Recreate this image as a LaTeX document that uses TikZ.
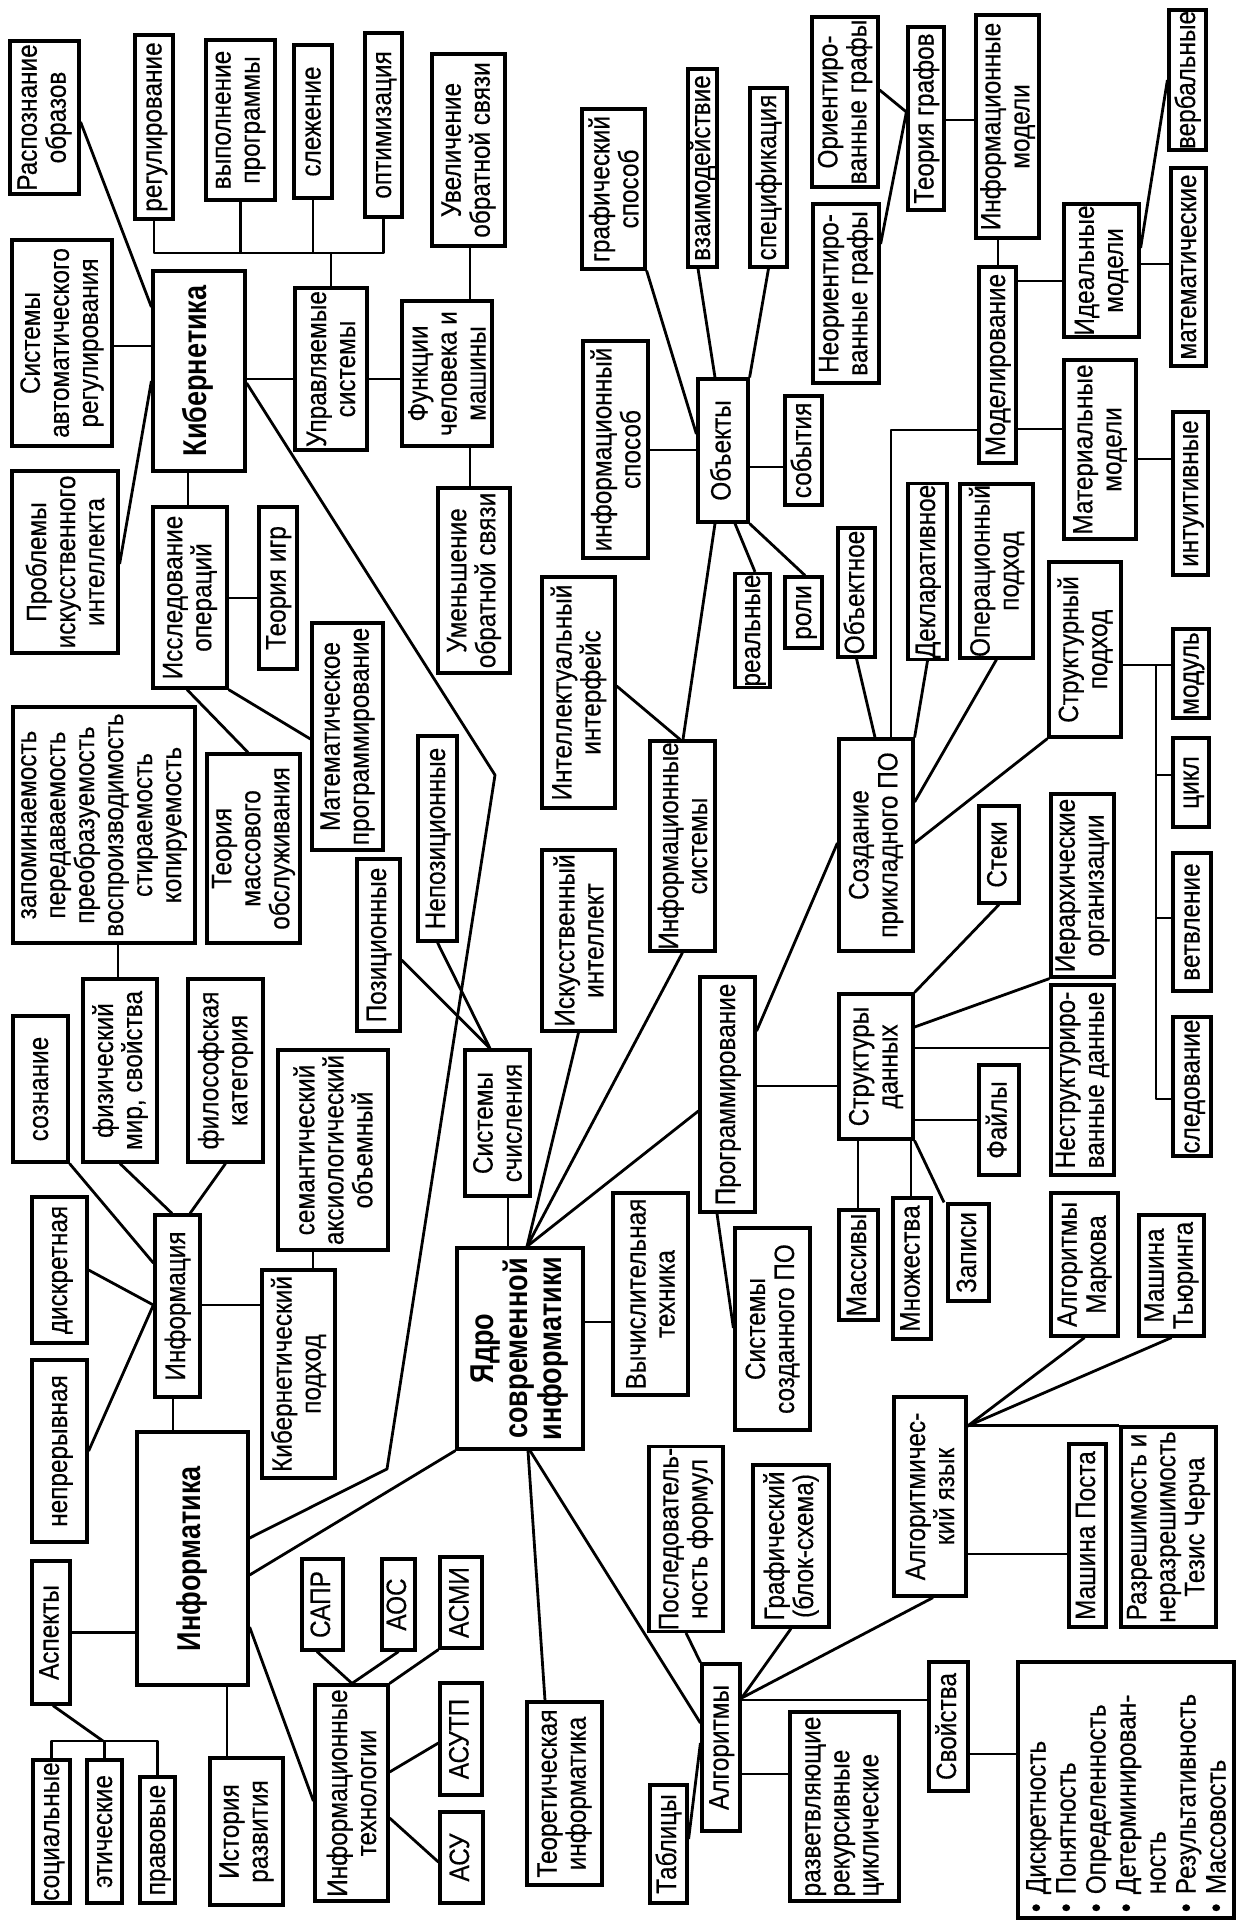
\documentclass[tikz,border=0pt]{standalone}
\usepackage{fontspec}
\setmainfont{Liberation Sans}[FakeStretch=0.87,FakeBold=0.4]
\newfontfamily\ttlfont{Liberation Sans}[FakeStretch=0.82]
\usetikzlibrary{calc}
\tikzset{
  bx/.style={draw, line width=1.6pt, rotate=90, inner sep=0.5pt, align=center,
    font=\fontsize{14}{14.5}\selectfont},
  one/.style={text height=10pt, text depth=2.5pt},
  ttl/.style={font=\ttlfont\bfseries\fontsize{16.5}{17}\selectfont},
  ln/.style={line width=1.4pt, line join=round}
}
\newcommand\mybox[7][]{\node[bx,#1,minimum width={(#6-#4)*0.5pt},minimum height={(#5-#3)*0.5pt}] (#2) at ({(#3+#5)/2},{(#4+#6)/2}) {#7};}
\begin{document}
\begin{tikzpicture}[x=0.5pt,y=-0.5pt]
\fill[white] (0,0) rectangle (1236,1921);
\useasboundingbox (0,0) rectangle (1236,1921);
% ---- top-left cluster
\mybox{rasp}{10}{41}{79}{194}{Распознание\\образов}
\mybox[one]{reg}{135}{35}{173}{219}{регулирование}
\mybox{vyp}{206}{40}{275}{200}{выполнение\\программы}
\mybox[one]{slezh}{294}{45}{332}{198}{слежение}
\mybox[one]{opt}{365}{33}{402}{217}{оптимизация}
\mybox{sar}{12}{240}{112}{446}{Системы\\автоматического\\регулирования}
\mybox[ttl,one]{kib}{153}{271}{245}{471}{Кибернетика}
\mybox{probl}{12}{471}{118}{653}{Проблемы\\искусственного\\интеллекта}
\mybox{upr}{295}{288}{367}{450}{Управляемые\\системы}
\mybox{func}{402}{301}{492}{446}{Функции\\человека и\\машины}
\mybox{uvel}{432}{54}{505}{246}{Увеличение\\обратной связи}
\mybox{umen}{438}{488}{510}{673}{Уменьшение\\обратной связи}
\mybox{issl}{153}{507}{227}{688}{Исследование\\операций}
\mybox[one]{tigr}{259}{507}{297}{669}{Теория игр}
\mybox{matpr}{312}{623}{383}{850}{Математическое\\программирование}
\mybox{tmo}{207}{754}{300}{943}{Теория\\массового\\обслуживания}
\mybox{zap}{13}{707}{195}{943}{запоминаемость\\передаваемость\\преобразуемость\\воспроизводимость\\стираемость\\копируемость}
\mybox{fiz}{83}{979}{157}{1162}{физический\\мир, свойства}
\mybox{filos}{188}{979}{263}{1162}{философская\\категория}
\mybox[one]{soz}{13}{1016}{68}{1162}{сознание}
\mybox{sem}{278}{1050}{388}{1250}{семантический\\аксиологический\\объемный}
\mybox[one]{pozic}{357}{859}{400}{1031}{Позиционные}
\mybox[one]{nepoz}{418}{736}{457}{941}{Непозиционные}
\mybox[one]{infm}{155}{1215}{200}{1397}{Информация}
\mybox[one]{diskr}{32}{1197}{87}{1343}{дискретная}
\mybox[one]{nepr}{32}{1360}{87}{1542}{непрерывная}
\mybox{kibp}{262}{1270}{335}{1478}{Кибернетический\\подход}
\mybox[ttl,one]{inf}{137}{1432}{248}{1685}{Информатика}
\mybox[one]{asp}{32}{1561}{70}{1704}{Аспекты}
\mybox[one]{soc}{33}{1760}{70}{1903}{социальные}
\mybox[one]{eth}{87}{1760}{122}{1903}{этические}
\mybox[one]{prav}{140}{1777}{175}{1903}{правовые}
\mybox{ist}{210}{1758}{283}{1905}{История\\развития}
\mybox{itech}{315}{1685}{388}{1901}{Информационные\\технологии}
\mybox[one]{sapr}{302}{1559}{343}{1650}{САПР}
\mybox[one]{aos}{382}{1559}{415}{1650}{АОС}
\mybox[one]{asmi}{440}{1557}{482}{1648}{АСМИ}
\mybox[one]{asutp}{440}{1683}{482}{1795}{АСУТП}
\mybox[one]{asu}{440}{1812}{483}{1903}{АСУ}
% ---- centre
\mybox{teor}{527}{1702}{602}{1885}{Теоретическая\\информатика}
\mybox[ttl]{yadro}{457}{1248}{583}{1449}{Ядро\\современной\\информатики}
\mybox{sch}{465}{1050}{530}{1196}{Системы\\счисления}
\mybox{ii}{542}{850}{615}{1031}{Искусственный\\интеллект}
\mybox{intf}{542}{577}{615}{808}{Интеллектуальный\\интерфейс}
\mybox{isys}{650}{741}{715}{951}{Информационные\\системы}
\mybox[one]{prog}{700}{977}{755}{1212}{Программирование}
\mybox{vt}{613}{1193}{688}{1395}{Вычислительная\\техника}
\mybox{ssp}{735}{1228}{810}{1430}{Системы\\созданного ПО}
\mybox{posl}{649}{1449}{723}{1629}{Последователь-\\ность формул}
\mybox{graf}{753}{1465}{829}{1627}{Графический\\(блок-схема)}
\mybox[one]{alg}{702}{1664}{740}{1831}{Алгоритмы}
\mybox[one]{tabl}{650}{1785}{687}{1903}{Таблицы}
\mybox[align=left]{razv}{790}{1712}{899}{1901}{разветвляющие\\рекурсивные\\циклические}
\mybox[one]{svoj}{929}{1662}{968}{1791}{Свойства}
\mybox[align=left,text width=122pt,font=\fontsize{14}{15}\selectfont]{props}{1018}{1662}{1234}{1918}{• Дискретность\\• Понятность\\• Определенность\\• Детерминирован-\\\phantom{• }ность\\• Результативность\\• Массовость}
\mybox{algyaz}{894}{1397}{966}{1596}{Алгоритмичес-\\кий язык}
\mybox[one]{post}{1069}{1444}{1106}{1627}{Машина Поста}
\mybox{razr}{1121}{1427}{1216}{1627}{Разрешимость и\\неразрешимость\\Тезис Черча}
\mybox{markov}{1051}{1193}{1118}{1336}{Алгоритмы\\Маркова}
\mybox{tur}{1139}{1215}{1204}{1336}{Машина\\Тьюринга}
\mybox[one]{mass}{839}{1210}{878}{1320}{Массивы}
\mybox[one]{mnozh}{893}{1198}{931}{1339}{Множества}
\mybox[one]{zapis}{948}{1204}{989}{1301}{Записи}
\mybox{sd}{839}{994}{913}{1139}{Структуры\\данных}
\mybox[one]{fail}{979}{1065}{1019}{1175}{Файлы}
\mybox{nestr}{1051}{985}{1114}{1175}{Неструктуриро-\\ванные данные}
\mybox{ierar}{1051}{794}{1114}{977}{Иерархические\\организации}
\mybox[one]{steki}{979}{806}{1019}{903}{Стеки}
\mybox{sozd}{839}{739}{913}{951}{Создание\\прикладного ПО}
\mybox[one]{sled}{1173}{1017}{1211}{1156}{следование}
\mybox[one]{vetv}{1173}{853}{1211}{991}{ветвление}
\mybox[one]{cikl}{1173}{738}{1209}{827}{цикл}
\mybox[one]{modul}{1173}{629}{1209}{718}{модуль}
\mybox{strp}{1049}{562}{1121}{737}{Структурный\\подход}
\mybox{oper}{960}{485}{1033}{657}{Операционный\\подход}
\mybox[one]{dekl}{908}{486}{947}{657}{Декларативное}
\mybox[one]{obkt}{838}{528}{875}{657}{Объектное}
\mybox[one]{intu}{1173}{412}{1208}{575}{интуитивные}
\mybox[one]{mat}{1171}{168}{1206}{366}{математические}
\mybox[one]{verb}{1169}{11}{1206}{149}{вербальные}
\mybox{mater}{1064}{360}{1136}{539}{Материальные\\модели}
\mybox{ideal}{1064}{204}{1139}{337}{Идеальные\\модели}
\mybox[one]{model}{979}{267}{1016}{463}{Моделирование}
\mybox{infmod}{976}{15}{1039}{238}{Информационные\\модели}
\mybox[one]{tgraf}{908}{27}{944}{210}{Теория графов}
\mybox{orgr}{812}{17}{878}{187}{Ориентиро-\\ванные графы}
\mybox{neorgr}{813}{204}{879}{383}{Неориентиро-\\ванные графы}
\mybox[one]{obj}{698}{379}{748}{522}{Объекты}
\mybox[one]{sob}{785}{396}{822}{505}{события}
\mybox[one]{real}{735}{577}{770}{684}{реальные}
\mybox[one]{roli}{785}{577}{822}{648}{роли}
\mybox{infsp}{583}{341}{648}{558}{информационный\\способ}
\mybox{grsp}{582}{109}{645}{269}{графический\\способ}
\mybox[one]{vzaim}{688}{69}{717}{267}{взаимодействие}
\mybox[one]{spec}{750}{88}{787}{267}{спецификация}
% ---- connectors
\begin{scope}[ln]
\draw (rasp.south |- 0,122) -- (kib.north |- 0,307);
\draw (sar.south |- 0,346) -- (kib.north |- 0,346);
\draw (probl.south |- 0,564) -- (kib.north |- 0,381);
\coordinate (busL) at (155,253);
\draw (reg.west) -- (reg.west |- busL) -- (opt.west |- busL) -- (opt.west);
\draw (vyp.west) -- (vyp.west |- busL);
\draw (slezh.west) -- (slezh.west |- busL);
\draw (upr.east) -- (upr.east |- busL);
\draw (kib.south |- 0,379) -- (upr.north |- 0,379);
\draw (upr.south |- 0,379) -- (func.north |- 0,379);
\draw (func.east -| 470,0) -- (uvel.west -| 470,0);
\draw (func.west -| 470,0) -- (umen.east -| 470,0);
\draw (kib.west -| 188,0) -- (issl.east -| 188,0);
\draw (issl.south |- 0,598) -- (tigr.north |- 0,598);
\draw (issl.west -| 187,0) -- (tmo.east -| 248,0);
\draw (issl.south west) -- (matpr.north |- 0,739);
\coordinate (b1) at (495,775);
\coordinate (b2) at (387,1469);
\draw (kib.south |- 0,383) -- (b1) -- (b2) -- (inf.south |- 0,1538);
\draw (zap.west -| 118,0) -- (fiz.east -| 118,0);
\draw (soz.south west) -- (infm.north |- 0,1263);
\draw (fiz.west) -- (infm.east -| 172,0);
\draw (filos.west) -- (infm.east -| 190,0);
\draw (diskr.south) -- (infm.north |- 0,1305);
\draw (nepr.south) -- (infm.north |- 0,1305);
\draw (infm.south |- 0,1305) -- (kibp.north |- 0,1305);
\draw (sem.west -| 313,0) -- (kibp.east -| 313,0);
\draw (infm.west -| 173,0) -- (inf.east -| 173,0);
\draw (asp.south) -- (inf.north |- asp.south);
\coordinate (abus) at (103,1741);
\draw (asp.west -| 53,0) -- (abus);
\draw (soc.east) -- (soc.east |- abus) -- (prav.east |- abus) -- (prav.east);
\draw (eth.east) -- (eth.east |- abus);
\draw (inf.west -| 227,0) -- (ist.east -| 227,0);
\draw (inf.south |- 0,1627) -- (itech.north |- 0,1801);
\draw (sapr.west -| 317,0) -- (itech.east -| 352,0);
\draw (aos.west) -- (itech.east -| 352,0);
\draw (itech.south east) -- (asmi.north west);
\draw (itech.south |- 0,1772) -- (asutp.north |- 0,1743);
\draw (itech.south |- 0,1818) -- (asu.north |- 0,1862);
\draw (inf.south |- 0,1575) -- (yadro.north west);
\draw (yadro.west -| 528,0) -- (teor.east -| 545,0);
\draw (yadro.west -| 530,0) -- (alg.north |- 0,1723);
\draw (posl.west) -- (alg.north east);
\draw (graf.west) -- (alg.south |- 0,1698);
\draw (alg.south |- 0,1698) -- (algyaz.west -| 933,0);
\draw (tabl.south |- 0,1839) -- (alg.north |- 0,1743);
\draw (alg.south |- 0,1774) -- (razv.north |- 0,1774);
\draw (alg.south |- 0,1700) -- (svoj.north |- 0,1700);
\draw (svoj.south |- 0,1754) -- (props.north |- 0,1754);
\draw (algyaz.south |- 0,1554) -- (post.north |- 0,1554);
\draw (algyaz.south |- razr.north east) -- (razr.north east);
\draw (algyaz.south |- 0,1426) -- (markov.west);
\draw (algyaz.south |- 0,1426) -- (tur.west);
\draw (yadro.east -| 508,0) -- (sch.west -| 508,0);
\draw (pozic.south |- 0,960) -- (sch.east -| 490,0);
\draw (nepoz.west) -- (sch.east -| 490,0);
\draw (yadro.east -| 527,0) -- (ii.west);
\draw (yadro.east -| 527,0) -- (isys.west);
\draw (yadro.east -| 527,0) -- (prog.north |- 0,1111);
\draw (yadro.south |- 0,1322) -- (vt.north |- 0,1322);
\draw (prog.west -| 717,0) -- (ssp.north |- 0,1328);
\draw (prog.south |- 0,1031) -- (sozd.north |- 0,843);
\draw (prog.south |- 0,1086) -- (sd.north |- 0,1086);
\draw (isys.east -| 680,0) -- (intf.south |- 0,686);
\draw (isys.east -| 683,0) -- (obj.west -| 715,0);
\draw (obj.west -| 735,0) -- (real.east -| 755,0);
\draw (obj.south west) -- (roli.east -| 805,0);
\draw (obj.south |- 0,467) -- (sob.north |- 0,467);
\draw (obj.north |- 0,450) -- (infsp.south |- 0,450);
\draw (grsp.south west) -- (obj.north |- 0,434);
\draw (vzaim.west -| 698,0) -- (obj.east -| 715,0);
\draw (spec.west) -- (obj.south east);
\draw (orgr.south |- 0,90) -- (tgraf.north |- 0,112);
\draw (neorgr.south |- 0,244) -- (tgraf.north |- 0,112);
\draw (tgraf.south |- 0,120) -- (infmod.north |- 0,120);
\draw (infmod.west -| 998,0) -- (model.east -| 998,0);
\draw (model.south |- 0,281) -- (ideal.north |- 0,281);
\draw (model.south |- 0,429) -- (mater.north |- 0,429);
\draw (model.north |- 0,430) -| (sozd.east -| 891,0);
\draw (ideal.south |- 0,264) -- (mat.north |- 0,264);
\draw (ideal.south |- 0,248) -- (verb.north |- 0,80);
\draw (mater.south |- 0,459) -- (intu.north |- 0,459);
\draw (obkt.west) -- (sozd.east -| 875,0);
\draw (dekl.west) -- (sozd.south east);
\draw (oper.west) -- (sozd.south |- 0,802);
\draw (strp.north west) -- (sozd.south |- 0,843);
\draw (strp.south |- 0,665) -- (modul.north |- 0,665);
\coordinate (sb) at (1156,665);
\draw (sb) |- (sled.north |- 0,1099);
\draw (sb |- 0,775) -- (cikl.north |- 0,775);
\draw (sb |- 0,918) -- (vetv.north |- 0,918);
\draw (steki.west) -- (sd.south east);
\draw (ierar.north west) -- (sd.south |- 0,1027);
\draw (sd.south |- 0,1048) -- (nestr.north |- 0,1048);
\draw (sd.south |- 0,1120) -- (fail.north |- 0,1120);
\draw (sd.west -| 858,0) -- (mass.east -| 858,0);
\draw (sd.west -| 911,0) -- (mnozh.east -| 911,0);
\draw (sd.south west) -- (zapis.east -| 944,0);
\end{scope}
\end{tikzpicture}
\end{document}
